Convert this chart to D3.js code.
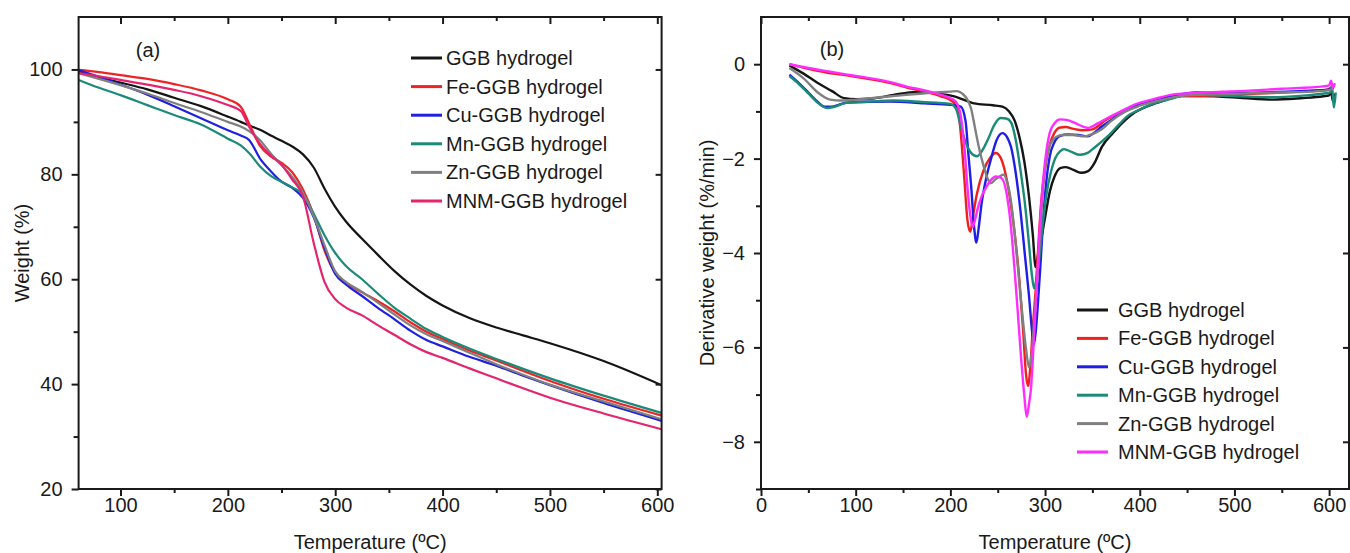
<!DOCTYPE html>
<html>
<head>
<meta charset="utf-8">
<script src="https://cdn.jsdelivr.net/npm/d3@7"></script>
<style>
  body { margin: 0; background: #fff; }
  svg text { font-family: "Liberation Sans", Arial, Helvetica, sans-serif; fill: #1a1a1a; }
</style>
</head>
<body>
<svg id="chart" width="1350" height="553"></svg>
<script>
// ---- Sample names and colours ----
const seriesNames = ["GGB hydrogel", "Fe-GGB hydrogel", "Cu-GGB hydrogel",
                     "Mn-GGB hydrogel", "Zn-GGB hydrogel", "MNM-GGB hydrogel"];
const tgaColors = ["#151515", "#ee2424", "#2020e0", "#1b8a78", "#808080", "#e4246e"];
const dtgColors = ["#151515", "#f02020", "#1e1ee8", "#1b8a78", "#808080", "#ff2cff"];

// ---- (a) TGA: weight (%) against temperature (ºC) ----
const tgaTemps = [61, 80, 100, 125, 150, 175, 200, 212, 220, 230, 240, 250, 260, 270, 280,
                  290, 300, 310, 325, 340, 355, 370, 385, 400, 425, 450, 475, 500, 550, 604];
const tgaGGB = [99.6, 98.5, 97.5, 96.2, 94.6, 93.0, 91.0, 90.0, 89.3, 88.5, 87.4, 86.4, 85.3, 83.8, 81.3,
                77.3, 73.8, 71.0, 67.7, 64.6, 61.6, 59.0, 56.8, 55.0, 52.6, 50.8, 49.3, 47.8, 44.4, 39.8];
const tgaFe  = [99.9, 99.5, 98.9, 98.2, 97.2, 96.0, 94.3, 92.9, 89.6, 85.4, 83.4, 82.2, 80.4, 77.1, 72.2,
                65.5, 61.2, 59.3, 57.5, 55.8, 53.9, 51.8, 50.0, 48.6, 46.4, 44.5, 42.5, 40.6, 37.2, 34.0];
const tgaCu  = [99.9, 98.6, 97.1, 95.2, 93.0, 90.7, 88.4, 87.4, 86.5, 83.0, 80.6, 78.6, 77.4, 75.5, 71.8,
                66.0, 61.0, 59.0, 56.8, 54.5, 52.4, 50.2, 48.4, 47.2, 45.2, 43.5, 41.6, 39.8, 36.4, 33.0];
const tgaMn  = [98.0, 96.5, 95.1, 93.2, 91.3, 89.5, 86.8, 85.5, 84.0, 81.5, 79.7, 78.6, 77.5, 76.2, 72.5,
                68.4, 65.0, 62.5, 60.0, 57.2, 54.6, 52.5, 50.5, 49.0, 46.8, 44.8, 42.9, 41.1, 37.8, 34.5];
const tgaZn  = [99.3, 98.2, 97.0, 95.4, 93.6, 91.9, 90.0, 89.1, 88.2, 86.5, 84.0, 81.8, 79.5, 76.5, 72.0,
                66.5, 61.5, 59.5, 57.6, 55.5, 53.3, 51.2, 49.5, 48.2, 46.0, 43.8, 41.8, 39.9, 36.7, 33.3];
const tgaMNM = [99.3, 98.7, 98.0, 97.1, 96.1, 94.9, 93.2, 92.1, 89.0, 85.8, 83.6, 81.8, 79.0, 75.8, 66.9,
                59.5, 56.2, 54.6, 53.1, 51.2, 49.4, 47.6, 46.1, 45.0, 43.0, 41.1, 39.2, 37.4, 34.4, 31.4];

// ---- (b) DTG: derivative weight (%/min) against temperature (ºC), [T, value] ----
const dtgGGB = [[30,-0.03],[45,-0.2],[60,-0.4],[75,-0.57],[88,-0.72],[100,-0.74],[120,-0.72],[140,-0.65],
  [165,-0.59],[185,-0.62],[204,-0.68],[225,-0.83],[245,-0.87],[255,-0.9],[262,-1.0],[268,-1.2],[273,-1.55],
  [278,-2.05],[283,-2.8],[287,-3.6],[290,-4.3],[292.5,-4.05],[296,-3.7],[300,-3.25],[305,-2.7],[310,-2.38],
  [316,-2.2],[322,-2.18],[330,-2.24],[338,-2.3],[345,-2.27],[352,-2.1],[360,-1.75],[372,-1.45],[385,-1.18],
  [395,-1.02],[418,-0.82],[450,-0.66],[480,-0.68],[506,-0.71],[540,-0.75],[570,-0.72],[594,-0.68],
  [600,-0.66],[602,-0.58],[604,-0.78],[606,-0.62]];
const dtgFe = [[30,0.0],[50,-0.1],[70,-0.18],[85,-0.22],[110,-0.3],[137,-0.4],[155,-0.5],[172,-0.58],
  [190,-0.68],[200,-0.76],[205,-0.85],[209,-1.1],[212,-1.7],[215,-2.5],[218,-3.3],[221,-3.55],[224,-3.2],
  [228,-2.75],[235,-2.25],[242,-1.98],[248,-1.88],[253,-1.98],[258,-2.3],[263,-2.85],[268,-3.6],[273,-4.6],
  [277,-5.7],[280,-6.6],[282,-6.82],[284.5,-6.4],[287,-5.6],[290,-4.8],[293,-3.8],[296,-2.9],[300,-2.2],
  [305,-1.7],[310,-1.45],[316,-1.34],[322,-1.33],[330,-1.37],[340,-1.4],[350,-1.38],[365,-1.17],[380,-1.02],
  [395,-0.88],[415,-0.76],[436,-0.68],[471,-0.68],[506,-0.64],[541,-0.61],[570,-0.58],[598,-0.54],
  [602,-0.5],[605,-0.52]];
const dtgCu = [[30,-0.22],[40,-0.4],[50,-0.6],[60,-0.8],[67,-0.9],[75,-0.9],[85,-0.84],[95,-0.8],[137,-0.79],
  [172,-0.83],[200,-0.86],[211,-0.9],[216,-1.2],[219,-1.9],[222,-2.6],[225,-3.44],[227.5,-3.78],[230,-3.45],
  [233,-2.95],[238,-2.4],[243,-2.0],[249,-1.6],[255,-1.46],[260,-1.55],[264,-1.75],[269,-2.3],[274,-3.1],
  [279,-4.1],[283,-4.9],[286,-5.6],[288,-5.95],[290,-5.7],[292,-5.2],[295,-4.3],[298,-3.3],[301,-2.55],
  [305,-1.95],[310,-1.65],[316,-1.52],[324,-1.49],[335,-1.5],[345,-1.53],[352,-1.45],[360,-1.32],[370,-1.18],
  [385,-0.98],[400,-0.84],[420,-0.73],[445,-0.63],[460,-0.6],[490,-0.62],[530,-0.6],[570,-0.57],[600,-0.54],
  [604,-0.5]];
const dtgMn = [[30,-0.25],[40,-0.42],[50,-0.62],[60,-0.82],[70,-0.93],[78,-0.9],[90,-0.82],[110,-0.8],
  [140,-0.77],[170,-0.8],[200,-0.84],[206,-0.95],[211,-1.32],[216,-1.65],[222,-1.88],[228,-1.95],[233,-1.85],
  [240,-1.58],[246,-1.3],[253,-1.14],[259,-1.15],[264,-1.23],[269,-1.6],[274,-2.24],[279,-3.0],[283,-3.8],
  [286,-4.45],[288.5,-4.75],[291,-4.55],[294,-4.1],[298,-3.3],[302,-2.7],[306,-2.3],[311,-1.98],[316,-1.84],
  [320,-1.8],[328,-1.86],[337,-1.92],[345,-1.88],[352,-1.77],[366,-1.53],[378,-1.28],[387,-1.1],[400,-0.96],
  [411,-0.86],[430,-0.75],[454,-0.64],[480,-0.66],[506,-0.68],[541,-0.7],[570,-0.67],[595,-0.62],
  [601,-0.6],[603,-0.45],[605,-0.92],[607,-0.6]];
const dtgZn = [[30,-0.08],[45,-0.3],[60,-0.6],[73,-0.75],[85,-0.77],[100,-0.75],[137,-0.68],[176,-0.61],
  [200,-0.58],[207,-0.57],[213,-0.63],[218,-0.75],[222,-0.95],[226,-1.35],[230,-1.75],[235,-2.15],[240,-2.45],
  [243,-2.52],[247,-2.45],[252,-2.38],[256,-2.34],[260,-2.5],[264,-2.9],[268,-3.6],[272,-4.45],[276,-5.3],
  [280,-6.05],[283,-6.42],[286,-6.1],[289,-5.3],[292,-4.5],[295,-3.5],[298,-2.6],[301,-2.05],[305,-1.72],
  [311,-1.55],[318,-1.5],[330,-1.5],[341,-1.53],[350,-1.48],[359,-1.39],[370,-1.2],[385,-1.0],[400,-0.88],
  [420,-0.77],[450,-0.66],[480,-0.64],[510,-0.62],[550,-0.6],[580,-0.58],[600,-0.55],[604,-0.52]];
const dtgMNM = [[30,0.0],[50,-0.08],[70,-0.15],[85,-0.2],[110,-0.28],[137,-0.38],[155,-0.48],[172,-0.55],
  [190,-0.65],[200,-0.72],[206,-0.8],[211,-1.1],[215,-1.8],[218,-2.6],[221,-3.2],[223.5,-3.45],[226,-3.3],
  [229,-3.05],[233,-2.8],[238,-2.6],[243,-2.45],[248,-2.38],[254,-2.41],[259,-2.7],[264,-3.45],[268,-4.4],
  [271,-5.2],[275,-6.3],[278,-7.0],[280.6,-7.47],[283,-7.2],[285,-6.9],[288,-5.9],[291,-4.8],[294,-3.6],
  [297,-2.7],[301,-1.9],[305,-1.45],[310,-1.25],[316,-1.17],[323,-1.18],[331,-1.24],[341,-1.33],[346,-1.35],
  [355,-1.26],[366,-1.14],[380,-1.0],[394,-0.86],[415,-0.74],[436,-0.64],[470,-0.6],[506,-0.57],[550,-0.52],
  [594,-0.47],[600,-0.45],[602,-0.35],[604,-0.5],[606,-0.4]];

// ---- Tick values ----
const xTicksA = [100, 200, 300, 400, 500, 600];
const xMinorA = [150, 250, 350, 450, 550];
const yTicksA = [20, 40, 60, 80, 100];
const yMinorA = [30, 50, 70, 90];
const xTicksB = [0, 100, 200, 300, 400, 500, 600];
const xMinorB = [50, 150, 250, 350, 450, 550];
const yTicksB = [-8, -6, -4, -2, 0];
const yMinorB = [-9, -7, -5, -3, -1];

const svg = d3.select("#chart");
const FONT = 20;

function drawPanel(cfg) {
  const x = d3.scaleLinear().domain(cfg.xDomain).range([cfg.left, cfg.right]);
  const y = d3.scaleLinear().domain(cfg.yDomain).range([cfg.bottom, cfg.top]);
  const g = svg.append("g");

  const clipId = "clip-" + cfg.id;
  svg.append("clipPath").attr("id", clipId).append("rect")
    .attr("x", cfg.left).attr("y", cfg.top)
    .attr("width", cfg.right - cfg.left).attr("height", cfg.bottom - cfg.top);

  // curves
  const line = d3.line().x(d => x(d[0])).y(d => y(d[1])).curve(d3.curveMonotoneX);
  const lines = g.append("g").attr("clip-path", `url(#${clipId})`);
  cfg.series.forEach((s, i) => {
    lines.append("path").datum(s)
      .attr("fill", "none").attr("stroke", cfg.colors[i])
      .attr("stroke-width", cfg.lineWidth).attr("stroke-linejoin", "round")
      .attr("d", line);
  });

  // axes: outward ticks at bottom/left with labels, inward ticks at top/right
  const styleAxis = sel => {
    sel.select(".domain").remove();
    sel.selectAll("line").attr("stroke", "#1a1a1a").attr("stroke-width", 2);
    sel.selectAll("text").attr("font-size", FONT).attr("fill", "#1a1a1a");
  };
  g.append("g").attr("transform", `translate(0,${cfg.bottom})`)
    .call(d3.axisBottom(x).tickValues(cfg.xTicks).tickSize(7).tickPadding(2).tickFormat(d3.format("d")))
    .call(styleAxis);
  g.append("g").attr("transform", `translate(0,${cfg.bottom})`)
    .call(d3.axisBottom(x).tickValues(cfg.xMinor).tickSize(4).tickFormat(""))
    .call(styleAxis);
  g.append("g").attr("transform", `translate(${cfg.left},0)`)
    .call(d3.axisLeft(y).tickValues(cfg.yTicks).tickSize(7).tickPadding(9).tickFormat(d3.format("d")))
    .call(styleAxis);
  g.append("g").attr("transform", `translate(${cfg.left},0)`)
    .call(d3.axisLeft(y).tickValues(cfg.yMinor).tickSize(5).tickFormat(""))
    .call(styleAxis);
  g.append("g").attr("transform", `translate(0,${cfg.top})`)
    .call(d3.axisTop(x).tickValues(cfg.xTicks).tickSize(-7).tickFormat(""))
    .call(styleAxis);
  g.append("g").attr("transform", `translate(0,${cfg.top})`)
    .call(d3.axisTop(x).tickValues(cfg.xMinor).tickSize(-4).tickFormat(""))
    .call(styleAxis);
  g.append("g").attr("transform", `translate(${cfg.right},0)`)
    .call(d3.axisRight(y).tickValues(cfg.yTicks).tickSize(-6).tickFormat(""))
    .call(styleAxis);

  // frame
  g.append("rect")
    .attr("x", cfg.left).attr("y", cfg.top)
    .attr("width", cfg.right - cfg.left).attr("height", cfg.bottom - cfg.top)
    .attr("fill", "none").attr("stroke", "#1a1a1a").attr("stroke-width", 2);

  // titles
  g.append("text")
    .attr("x", (cfg.left + cfg.right) / 2).attr("y", 549)
    .attr("text-anchor", "middle").attr("font-size", FONT)
    .text("Temperature (ºC)");
  g.append("text")
    .attr("transform", `translate(${cfg.yTitleX},${(cfg.top + cfg.bottom) / 2}) rotate(-90)`)
    .attr("text-anchor", "middle").attr("dy", "0.35em").attr("font-size", FONT)
    .text(cfg.yTitle);
  g.append("text")
    .attr("x", cfg.tagX).attr("y", cfg.tagY).attr("dy", "0.35em")
    .attr("text-anchor", "middle").attr("font-size", FONT)
    .text(cfg.tag);

  // legend
  const leg = g.append("g");
  seriesNames.forEach((name, i) => {
    const yy = cfg.legY + i * cfg.legStep;
    leg.append("line")
      .attr("x1", cfg.legX).attr("x2", cfg.legX + 31)
      .attr("y1", yy).attr("y2", yy)
      .attr("stroke", cfg.colors[i]).attr("stroke-width", 3);
    leg.append("text")
      .attr("x", cfg.legX + cfg.legTextGap).attr("y", yy).attr("dy", "0.35em")
      .attr("font-size", FONT).text(name);
  });
}

const tgaSeries = [tgaGGB, tgaFe, tgaCu, tgaMn, tgaZn, tgaMNM].map(vals => tgaTemps.map((t, i) => [t, vals[i]]));
const dtgSeries = [dtgGGB, dtgFe, dtgCu, dtgMn, dtgZn, dtgMNM];

drawPanel({
  id: "a", left: 78.6, right: 661.6, top: 17, bottom: 489,
  xDomain: [61, 604], yDomain: [20, 110],
  xTicks: xTicksA, xMinor: xMinorA, yTicks: yTicksA, yMinor: yMinorA,
  series: tgaSeries, colors: tgaColors, lineWidth: 2.2,
  yTitle: "Weight (%)", yTitleX: 22, tag: "(a)", tagX: 148, tagY: 50,
  legX: 411, legY: 58, legStep: 28.6, legTextGap: 35
});

drawPanel({
  id: "b", left: 761, right: 1349, top: 17, bottom: 489,
  xDomain: [0, 621], yDomain: [-9, 1],
  xTicks: xTicksB, xMinor: xMinorB, yTicks: yTicksB, yMinor: yMinorB,
  series: dtgSeries, colors: dtgColors, lineWidth: 2.4,
  yTitle: "Derivative weight (%/min)", yTitleX: 707, tag: "(b)", tagX: 832, tagY: 49,
  legX: 1077, legY: 310, legStep: 28.4, legTextGap: 41
});
</script>
</body>
</html>
